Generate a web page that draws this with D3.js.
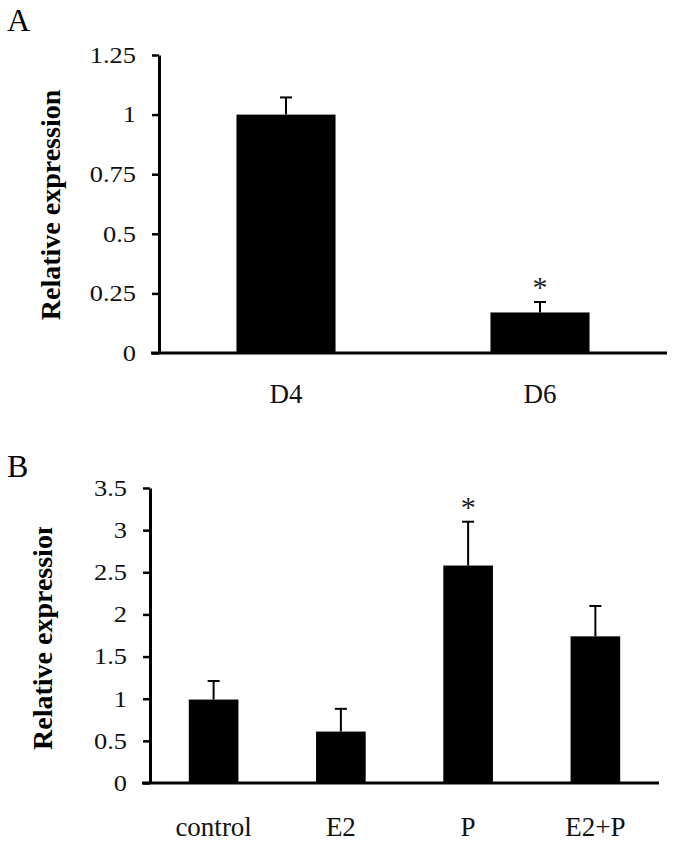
<!DOCTYPE html>
<html>
<head>
<meta charset="utf-8">
<script src="https://cdn.jsdelivr.net/npm/d3@7"></script>
<style>
  html, body { margin: 0; padding: 0; background: #fff; }
  svg { display: block; font-family: "Liberation Serif", "Times New Roman", serif; }
</style>
</head>
<body>
<div id="app"></div>
<script>
// panel A
const categoriesA = ['D4', 'D6'];
const valuesA = [1.0, 0.17];
const errorsA = [0.072, 0.044];
const significantA = [false, true];
const ticksA = [0, 0.25, 0.5, 0.75, 1, 1.25];

// panel B
const categoriesB = ['control', 'E2', 'P', 'E2+P'];
const valuesB = [0.99, 0.61, 2.58, 1.74];
const errorsB = [0.22, 0.27, 0.52, 0.36];
const significantB = [false, false, true, false];
const ticksB = [0, 0.5, 1, 1.5, 2, 2.5, 3, 3.5];

const width = 673;
const height = 842;

const svg = d3.select('#app').append('svg')
  .attr('width', width)
  .attr('height', height);

const drawPanel = (opts) => {
  const { cats, vals, errs, sig, ticks, x0, x1, y0, y1, label, labelY, titleX, titleY, titleClip, catPad } = opts;

  const x = d3.scaleBand()
    .domain(cats)
    .range([x0, x1])
    .paddingInner(0.61)
    .paddingOuter(0.305);

  const y = d3.scaleLinear()
    .domain([0, d3.max(ticks)])
    .range([y0, y1]);

  const g = svg.append('g');

  // bars
  g.selectAll('rect.bar')
    .data(vals)
    .enter().append('rect')
    .attr('class', 'bar')
    .attr('x', (d, i) => x(cats[i]))
    .attr('y', d => y(d))
    .attr('width', x.bandwidth())
    .attr('height', d => y(0) - y(d))
    .attr('fill', '#000');

  // upper error bars
  const cx = i => x(cats[i]) + x.bandwidth() / 2;
  const err = g.selectAll('g.err')
    .data(vals)
    .enter().append('g')
    .attr('class', 'err');

  err.append('line')
    .attr('x1', (d, i) => cx(i))
    .attr('x2', (d, i) => cx(i))
    .attr('y1', d => y(d))
    .attr('y2', (d, i) => y(d + errs[i]))
    .attr('stroke', '#000')
    .attr('stroke-width', 2);

  err.append('line')
    .attr('x1', (d, i) => cx(i) - 6)
    .attr('x2', (d, i) => cx(i) + 6)
    .attr('y1', (d, i) => y(d + errs[i]))
    .attr('y2', (d, i) => y(d + errs[i]))
    .attr('stroke', '#000')
    .attr('stroke-width', 2);

  // significance stars
  g.selectAll('text.star')
    .data(vals.map((d, i) => ({ d, i })).filter(o => sig[o.i]))
    .enter().append('text')
    .attr('class', 'star')
    .attr('x', o => cx(o.i))
    .attr('y', o => y(o.d + errs[o.i]) - 5)
    .attr('text-anchor', 'middle')
    .attr('font-size', 30)
    .attr('fill', '#222')
    .text('*');

  // y axis
  const yAxis = g.append('g')
    .attr('transform', `translate(${x0},0)`)
    .call(d3.axisLeft(y)
      .tickValues(ticks)
      .tickFormat(d => String(d))
      .tickSize(7)
      .tickSizeOuter(0)
      .tickPadding(13));

  yAxis.attr('font-family', '"Liberation Serif", serif');
  yAxis.select('.domain').attr('stroke-width', 3);
  yAxis.selectAll('.tick line').attr('stroke-width', 2.5);
  yAxis.selectAll('.tick text')
    .attr('font-size', 23)
    .attr('fill', '#111')
    .attr('transform', 'scale(1.15,1)');

  // x axis
  const xAxis = g.append('g')
    .attr('transform', `translate(0,${y0})`)
    .call(d3.axisBottom(x)
      .tickSize(0)
      .tickSizeOuter(0)
      .tickPadding(catPad));

  xAxis.attr('font-family', '"Liberation Serif", serif');
  xAxis.select('.domain')
    .attr('d', `M${x0 - 8},0H${x1}`)
    .attr('stroke-width', 3);
  xAxis.selectAll('.tick text')
    .attr('font-size', 27)
    .attr('fill', '#111');

  // y title (clipped in panel B, as in the source figure)
  const titleWrap = g.append('g');
  titleWrap.append('text')
    .attr('transform', `translate(${titleX},${titleY}) rotate(-90)`)
    .attr('text-anchor', titleClip ? 'start' : 'middle')
    .attr('font-size', 28)
    .attr('font-weight', 'bold')
    .text('Relative expression');

  if (titleClip) {
    const id = 'clip-' + label;
    svg.append('clipPath').attr('id', id)
      .append('rect')
      .attr('x', 0).attr('y', titleClip)
      .attr('width', 100).attr('height', height - titleClip);
    titleWrap.attr('clip-path', `url(#${id})`);
  }

  // panel label
  svg.append('text')
    .attr('x', 7)
    .attr('y', labelY)
    .attr('font-size', 32)
    .text(label);
};

drawPanel({
  cats: categoriesA, vals: valuesA, errs: errorsA, sig: significantA, ticks: ticksA,
  x0: 159, x1: 667, y0: 353, y1: 55,
  label: 'A', labelY: 31, titleX: 60, titleY: 205, titleClip: null, catPad: 31
});

drawPanel({
  cats: categoriesB, vals: valuesB, errs: errorsB, sig: significantB, ticks: ticksB,
  x0: 150, x1: 659, y0: 783, y1: 488,
  label: 'B', labelY: 477, titleX: 52, titleY: 750, titleClip: 527, catPad: 34
});
</script>
</body>
</html>
